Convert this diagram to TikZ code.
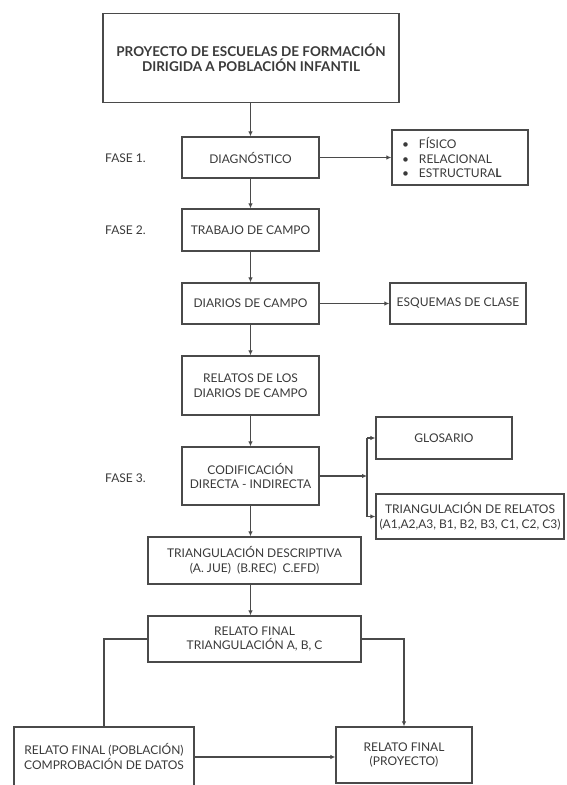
\documentclass[tikz,border=0pt]{standalone}
\usepackage{fontspec}
\setmainfont{Lato}
\usetikzlibrary{arrows.meta}
\definecolor{ink}{HTML}{3A3A3A}
\definecolor{edge}{HTML}{4A4A4A}
\begin{document}
\begin{tikzpicture}[x=1pt,y=-1pt,
  box/.style={draw=edge,line width=1.3pt,fill=white,text=ink,align=center,inner sep=0pt,
    font=\fontsize{12}{14.5}\selectfont},
  lbl/.style={text=ink,anchor=west,inner sep=0pt,font=\fontsize{12}{14.5}\selectfont},
  conn/.style={draw=edge,line width=1.3pt},
  arr/.style={conn,-{Latex[length=5pt,width=4.5pt]}}]
\useasboundingbox[fill=white] (0,0) rectangle (567,785);

\node[box,minimum width=296pt,minimum height=89pt,font=\fontsize{13.5}{15.5}\selectfont\bfseries] (top) at (251,58)
  {PROYECTO DE ESCUELAS DE FORMACIÓN\\DIRIGIDA A POBLACIÓN INFANTIL};
\node[box,minimum width=137pt,minimum height=41pt] (diag) at (250.5,157.5) {DIAGNÓSTICO};
\node[box,minimum width=136pt,minimum height=55pt,align=left,text width=116pt,inner xsep=10pt] (fis) at (460,157.5)
  {\makebox[17pt][l]{\textbullet}FÍSICO\\\makebox[17pt][l]{\textbullet}RELACIONAL\\\makebox[17pt][l]{\textbullet}ESTRUCTURA\textbf{L}};
\node[box,minimum width=137pt,minimum height=42pt] (trab) at (250.5,230) {TRABAJO DE CAMPO};
\node[box,minimum width=137pt,minimum height=41pt] (diar) at (250.5,303.5) {DIARIOS DE CAMPO};
\node[box,minimum width=136pt,minimum height=41pt] (esq) at (458,303.5) {ESQUEMAS DE CLASE};
\node[box,minimum width=137pt,minimum height=59pt] (rel) at (250.5,385.5) {RELATOS DE LOS\\DIARIOS DE CAMPO};
\node[box,minimum width=137pt,minimum height=58pt] (cod) at (250.5,476) {CODIFICACIÓN\\DIRECTA - INDIRECTA};
\node[box,minimum width=136pt,minimum height=42pt] (glo) at (444,438) {GLOSARIO};
\node[box,minimum width=188pt,minimum height=45pt] (tri) at (470,516.5) {TRIANGULACIÓN DE RELATOS\\(A1,A2,A3, B1, B2, B3, C1, C2, C3)};
\node[box,minimum width=213pt,minimum height=47pt] (desc) at (254.5,560.5) {TRIANGULACIÓN DESCRIPTIVA\\(A. JUE)\ \ (B.REC)\ \ C.EFD)};
\node[box,minimum width=213pt,minimum height=46pt] (fin) at (254.5,639) {RELATO FINAL\\TRIANGULACIÓN A, B, C};
\node[box,minimum width=180pt,minimum height=59pt] (pob) at (104,756.5) {RELATO FINAL (POBLACIÓN)\\COMPROBACIÓN DE DATOS};
\node[box,minimum width=136pt,minimum height=56pt] (proy) at (404,755) {RELATO FINAL\\(PROYECTO)};

\node[lbl] (f1) at (105,158) {FASE 1.};
\node[lbl] (f2) at (105,230) {FASE 2.};
\node[lbl] (f3) at (105,478) {FASE 3.};

\draw[arr] (top.south -| diag.north) -- (diag.north);
\draw[arr] (diag.east) -- (fis.west);
\draw[arr] (diag.south) -- (trab.north);
\draw[arr] (trab.south) -- (diar.north);
\draw[arr] (diar.east) -- (esq.west);
\draw[arr] (diar.south) -- (rel.north);
\draw[arr] (rel.south) -- (cod.north);
\coordinate (J) at (367,476);
\coordinate (Jg) at (367,438);
\coordinate (Jt) at (367,516.5);
\draw[arr] (cod.east) -- (J);
\draw[conn] (Jg) -- (Jt);
\draw[arr] (Jg) -- (glo.west);
\draw[arr] (Jt) -- (tri.west);
\draw[arr] (cod.south) -- (cod.south |- desc.north);
\draw[arr] (cod.south |- desc.south) -- (cod.south |- fin.north);
\draw[conn] (fin.west) -| (pob.north);
\draw[arr] (fin.east) -| (proy.north);
\draw[arr] (pob.east |- 0,757) -- (proy.west |- 0,757);
\end{tikzpicture}
\end{document}
